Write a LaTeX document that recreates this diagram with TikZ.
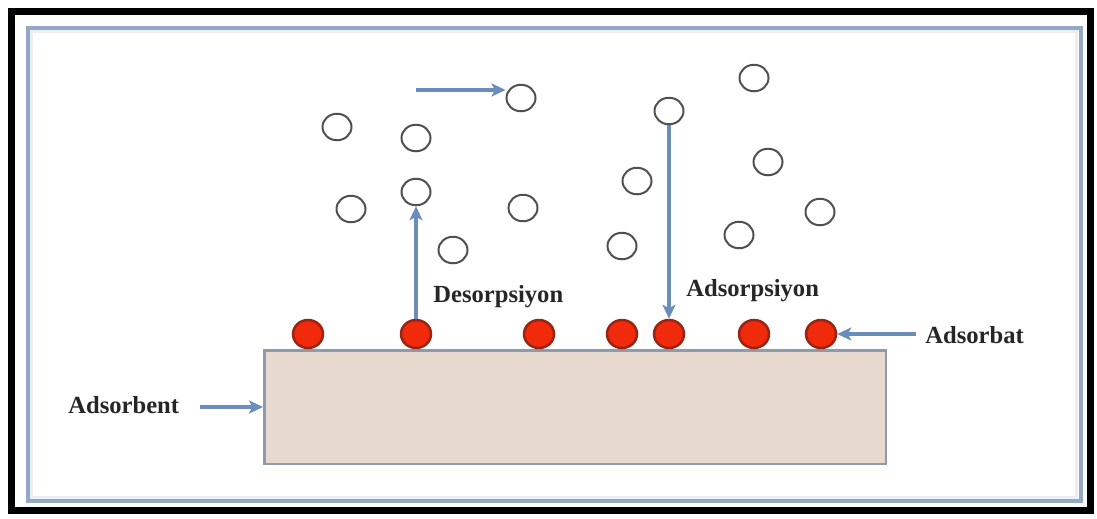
\documentclass[tikz,border=0pt]{standalone}
\usepackage{fontspec}
\setmainfont{Liberation Serif}
\usetikzlibrary{shapes.geometric,arrows.meta}
\definecolor{arrowblue}{HTML}{6B8DBB}
\definecolor{framegrey}{HTML}{92A9C6}
\definecolor{slabfill}{HTML}{E7D9CD}
\definecolor{slabedge}{HTML}{8E9BAD}
\definecolor{atomred}{HTML}{F22A0C}
\definecolor{atomedge}{HTML}{9A2414}
\definecolor{molgrey}{HTML}{505050}
\tikzset{
  molecule/.style={ellipse, draw=molgrey, line width=0.04cm, fill=white,
    minimum width=0.58cm, minimum height=0.53cm, inner sep=0pt},
  adsatom/.style={ellipse, draw=atomedge, line width=0.05cm, fill=atomred,
    minimum width=0.6cm, minimum height=0.56cm, inner sep=0pt},
  flow/.style={draw=arrowblue, line width=0.065cm,
    -{Stealth[length=0.28cm,width=0.26cm,inset=0.07cm]}},
  label/.style={font=\fontsize{14}{16}\selectfont\bfseries, inner sep=0pt, text=black!85}
}
\begin{document}
\begin{tikzpicture}[x=0.02cm,y=-0.02cm]
  \useasboundingbox (0,0) rectangle (1097,518);
  \fill[white] (0,0) rectangle (1097,518);
  % frames
  \draw[black, line width=0.14cm] (11.5,11) rectangle (1090,510);
  \draw[framegrey!18, line width=0.06cm] (31.5,31.5) rectangle (1076.5,497);
  \draw[framegrey, line width=0.08cm] (27.5,27.5) rectangle (1080.5,501);
  % adsorbent slab
  \node[draw=slabedge, line width=0.05cm, fill=slabfill, minimum width=12.44cm,
    minimum height=2.28cm, inner sep=0pt, anchor=north west] (slab) at (263,349) {};
  % adsorbed atoms on the surface
  \foreach \n/\x in {a1/308, a2/416, a3/539, a4/622, a5/669, a6/754, a7/821}
    \node[adsatom] (\n) at (\x,334) {};
  % free molecules
  \foreach \n/\x/\y in {m1/337/127, m2/416/138, m3/521/98, m4/351/209,
      m5/416/192, m6/453/250, m7/523/208, m8/669/111, m9/754/78,
      m10/637/181, m11/768/162, m12/622/246, m13/739/235, m14/820/212}
    \node[molecule] (\n) at (\x,\y) {};
  % labels
  \node[label, anchor=west] (ldes) at (433,297) {Desorpsiyon};
  \node[label, anchor=west] (lads) at (686,291) {Adsorpsiyon};
  \node[label, anchor=west] (lbat) at (925,335) {Adsorbat};
  \node[label, anchor=west] (lbent) at (68,405) {Adsorbent};
  % movement arrows
  \coordinate (hstart) at (416,90);
  \draw[flow] (hstart) -- (hstart -| m3.west);
  \draw[flow] (a2.north) -- (m5.south);
  \draw[flow] (m8.south) -- (a5.north);
  % pointer arrows
  \coordinate (batstart) at (916,334);
  \draw[flow] (batstart) -- (a7.east);
  \coordinate (bentstart) at (200,407);
  \draw[flow] (bentstart) -- (slab.west |- bentstart);
\end{tikzpicture}
\end{document}
